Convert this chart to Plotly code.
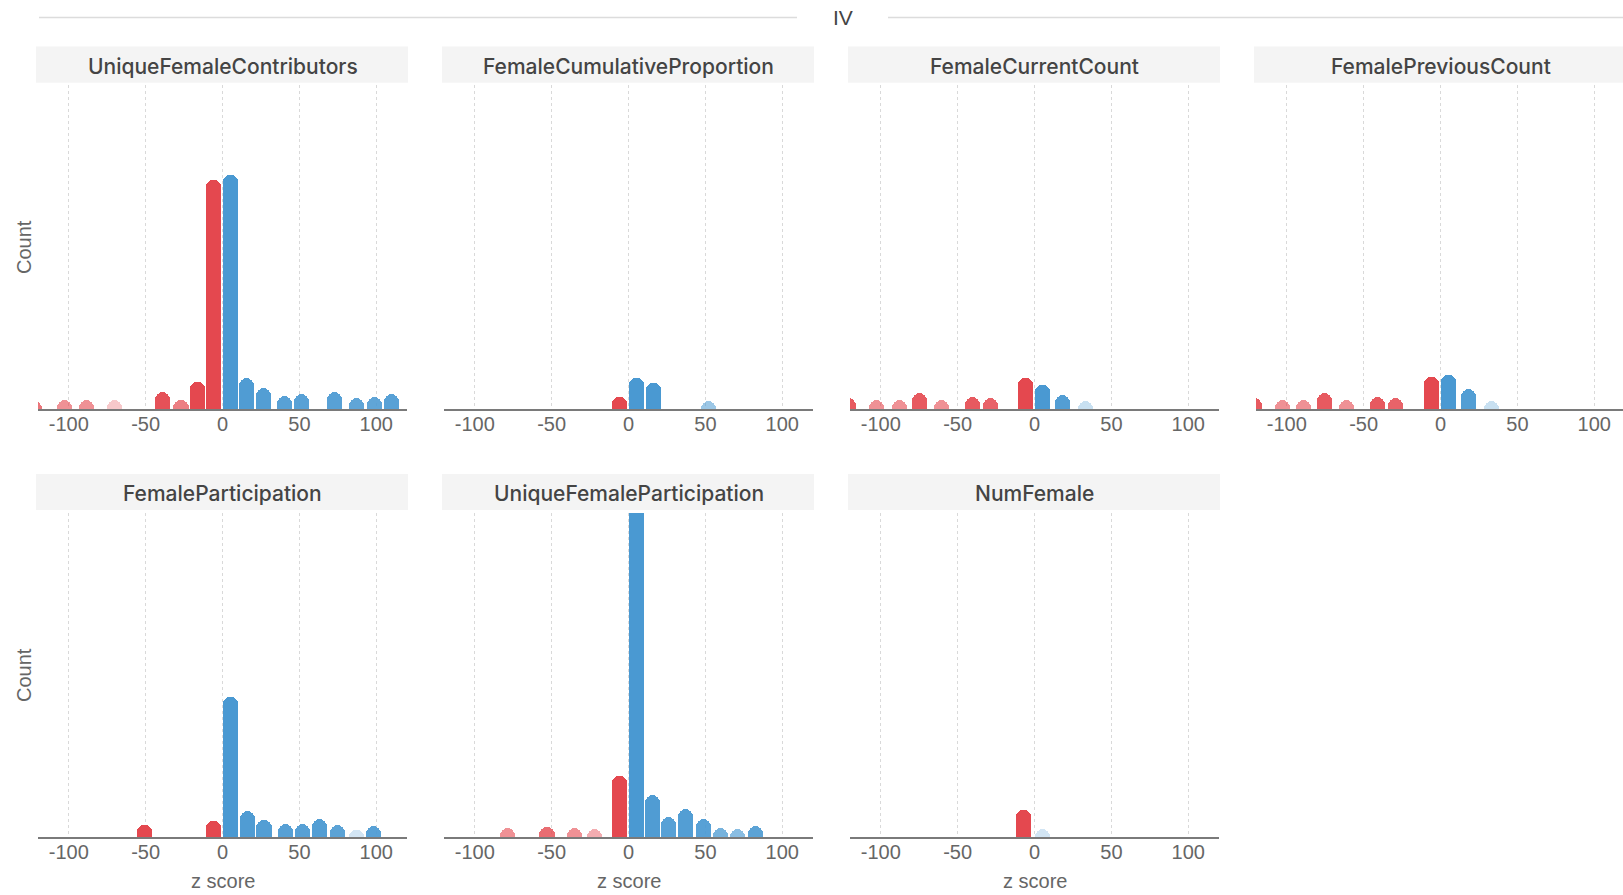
import plotly.graph_objects as go

W, H = 1623, 895

# ---------------- data (z score bin centre, count) ----------------
panel_titles = [
    "UniqueFemaleContributors", "FemaleCumulativeProportion",
    "FemaleCurrentCount", "FemalePreviousCount",
    "FemaleParticipation", "UniqueFemaleParticipation", "NumFemale",
]

ufc_z = [-122, -103, -88.5, -70, -39, -27, -16.5, -6, 5, 15.5, 26.5, 40.5, 51.5, 73, 87, 99, 110]
ufc_count = [1.7, 1.9, 1.9, 1.9, 3.7, 2.1, 6.0, 50.9, 51.9, 6.9, 4.7, 2.8, 3.3, 3.7, 2.4, 2.7, 3.3]

fcp_z = [-6, 5, 16.5, 52]
fcp_count = [2.6, 7.0, 5.7, 1.8]

fcc_z = [-121, -103, -88, -75, -60.5, -40.5, -28.5, -5.7, 5.5, 18.3, 33]
fcc_count = [2.4, 2.0, 2.0, 3.5, 2.0, 2.6, 2.4, 7.0, 5.3, 3.1, 1.8]

fpc_z = [-121, -103, -89, -75.5, -61, -41, -29, -6, 5, 18, 33]
fpc_count = [2.4, 2.0, 2.0, 3.5, 2.0, 2.6, 2.4, 7.2, 7.6, 4.4, 1.8]

fp_z = [-51, -6, 5.3, 16, 27, 41, 52, 63, 75, 87, 98]
fp_count = [2.6, 3.6, 31.1, 5.8, 3.8, 3.0, 3.0, 4.1, 2.6, 1.6, 2.4]

ufp_z = [-79, -53, -35, -22, -6, 5, 15.5, 26, 37, 49, 60, 71, 82.5]
ufp_count = [2.0, 2.2, 2.0, 1.8, 13.6, 90.0, 9.4, 4.4, 6.2, 4.1, 2.0, 1.8, 2.4]

nf_z = [-7, 5]
nf_count = [5.9, 1.8]

# ---------------- style: per-bar opacity ----------------
ufc_alpha = [0.75, 0.6, 0.6, 0.3, 0.95, 0.7, 1, 1, 1, 0.97, 0.95, 0.92, 0.92, 0.92, 0.88, 0.88, 0.92]
fcp_alpha = [1, 1, 1, 0.55]
fcc_alpha = [0.9, 0.6, 0.6, 0.9, 0.6, 0.9, 0.85, 1, 1, 0.95, 0.3]
fpc_alpha = [0.9, 0.6, 0.6, 0.9, 0.6, 0.9, 0.85, 1, 1, 0.95, 0.3]
fp_alpha = [1, 1, 1, 0.97, 0.95, 0.93, 0.93, 0.95, 0.9, 0.25, 0.92]
ufp_alpha = [0.6, 0.8, 0.6, 0.45, 1, 1, 0.97, 0.92, 0.95, 0.92, 0.75, 0.65, 0.9]
nf_alpha = [1, 0.25]

panels = [
    (ufc_z, ufc_count, ufc_alpha),
    (fcp_z, fcp_count, fcp_alpha),
    (fcc_z, fcc_count, fcc_alpha),
    (fpc_z, fpc_count, fpc_alpha),
    (fp_z, fp_count, fp_alpha),
    (ufp_z, ufp_count, ufp_alpha),
    (nf_z, nf_count, nf_alpha),
]

tick_vals = [-100, -50, 0, 50, 100]
tick_text = ["-100", "-50", "0", "50", "100"]

RED = (228, 72, 79)
BLUE = (74, 153, 210)
FONT = "Liberation Sans, Arial, sans-serif"
TITLE_FONT = "Inter, Liberation Sans, Arial, sans-serif"

# ---------------- geometry (pixels) ----------------
col_left = [38, 444, 850, 1256]
col_w = 369
row_top = [85, 513]
row_bot = [409, 837]
strip_top = [46.6, 474]
strip_bot = [82.8, 510]
px_per_unit = col_w / 240.0

fig = go.Figure()
layout = dict(
    width=W, height=H,
    margin=dict(l=0, r=0, t=0, b=0),
    paper_bgcolor="white", plot_bgcolor="white",
    showlegend=False,
    bargap=0,
)
shapes = []
annotations = []

for i, (zs, cs, al) in enumerate(panels):
    r, c = divmod(i, 4)
    n = i + 1
    xs = "" if n == 1 else str(n)
    left = col_left[c]
    right = left + col_w
    xr = [-120, 120]
    if right > W:
        xr = [-120, -120 + (W - left) / px_per_unit]
        right = W
    colors = []
    for z, a in zip(zs, al):
        rgb = RED if z < 0 else BLUE
        colors.append("rgba(%d,%d,%d,%.2f)" % (rgb + (a,)))
    fig.add_trace(go.Bar(
        x=zs, y=cs, width=9.8,
        marker=dict(color=colors, cornerradius="50%", line=dict(width=0)),
        xaxis="x" + xs, yaxis="y" + xs, hoverinfo="x+y",
    ))
    layout["xaxis" + xs] = dict(
        domain=[left / W, right / W], range=xr, anchor="y" + xs,
        tickvals=tick_vals, ticktext=tick_text, ticks="",
        ticklabelstandoff=-4,
        showgrid=True, gridcolor="#d9d9d9", griddash="dot", gridwidth=1,
        zeroline=False, showline=True, linecolor="#7a7a7a", linewidth=2,
        tickfont=dict(family=FONT, size=20, color="#666"),
        fixedrange=True,
    )
    layout["yaxis" + xs] = dict(
        domain=[1 - row_bot[r] / H, 1 - row_top[r] / H], range=[0, 72],
        anchor="x" + xs, showgrid=False, showticklabels=False,
        zeroline=False, showline=False, ticks="", fixedrange=True,
    )
    # strip header
    shapes.append(dict(
        type="rect", xref="paper", yref="paper",
        x0=(left - 2) / W, x1=min(right + 1, W) / W,
        y0=1 - strip_bot[r] / H, y1=1 - strip_top[r] / H,
        fillcolor="#f4f4f4", line=dict(width=0), layer="below",
    ))
    annotations.append(dict(
        text=panel_titles[i], xref="paper", yref="paper",
        x=(left + col_w / 2) / W,
        y=1 - ((strip_top[r] + strip_bot[r]) / 2 + 1.5) / H,
        xanchor="center", yanchor="middle", showarrow=False,
        font=dict(family=TITLE_FONT, size=21, color="#444", weight=500),
    ))
    if r == 1:
        annotations.append(dict(
            text="z score", xref="paper", yref="paper",
            x=(left + col_w / 2) / W, y=1 - 881 / H,
            xanchor="center", yanchor="middle", showarrow=False,
            font=dict(family=FONT, size=20, color="#666"),
        ))

for r in range(2):
    annotations.append(dict(
        text="Count", xref="paper", yref="paper",
        x=24 / W, y=1 - (row_top[r] + row_bot[r]) / 2 / H,
        xanchor="center", yanchor="middle", showarrow=False, textangle=-90,
        font=dict(family=FONT, size=20, color="#666"),
    ))

# top facet header "IV"
shapes.append(dict(type="line", xref="paper", yref="paper",
                   x0=39 / W, x1=797 / W, y0=1 - 17.6 / H, y1=1 - 17.6 / H,
                   line=dict(color="#dcdcdc", width=1.5)))
shapes.append(dict(type="line", xref="paper", yref="paper",
                   x0=888 / W, x1=1.0, y0=1 - 17.6 / H, y1=1 - 17.6 / H,
                   line=dict(color="#dcdcdc", width=1.5)))
annotations.append(dict(
    text="IV", xref="paper", yref="paper", x=843 / W, y=1 - 17.6 / H,
    xanchor="center", yanchor="middle", showarrow=False,
    font=dict(family=FONT, size=21, color="#444"),
))

layout["shapes"] = shapes
layout["annotations"] = annotations
fig.update_layout(**layout)
fig.write_html("out.html")
